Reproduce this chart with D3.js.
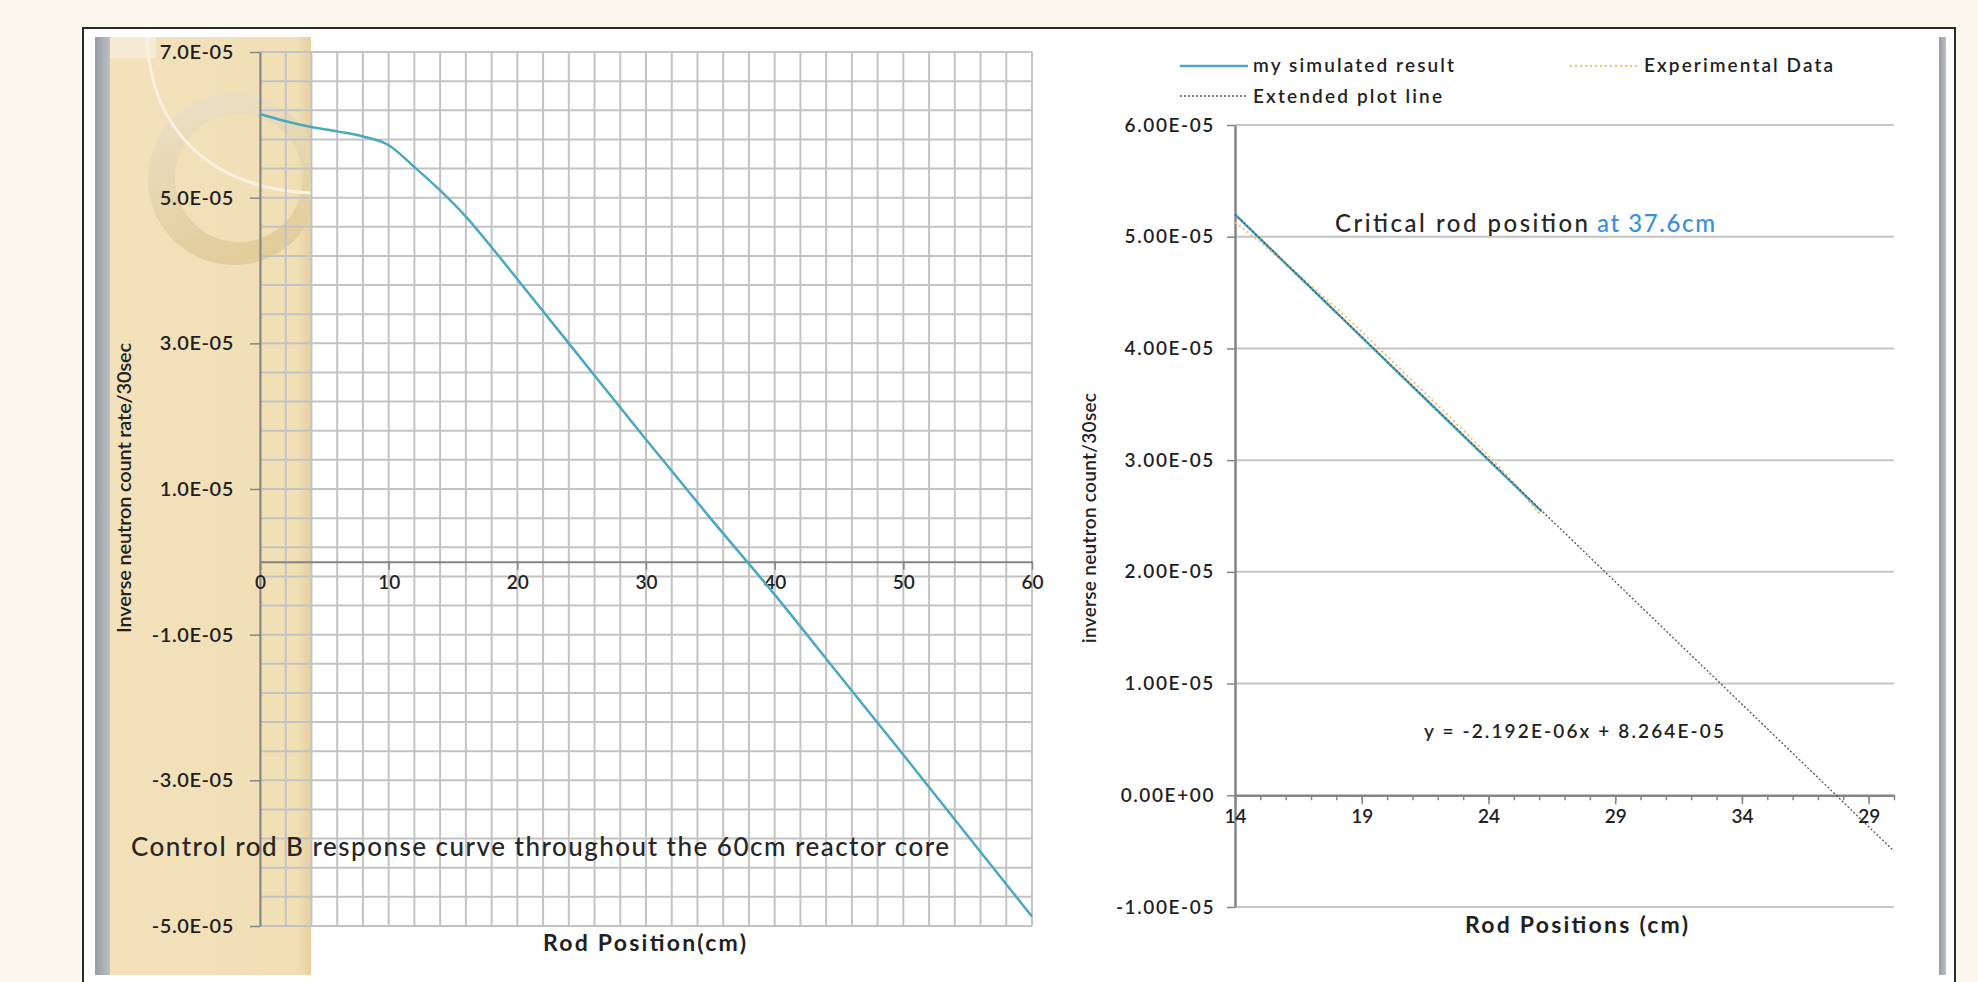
<!DOCTYPE html>
<html><head><meta charset="utf-8">
<script src="https://cdn.jsdelivr.net/npm/d3@7"></script>
<style>
html,body{margin:0;padding:0;background:#fbf6ee;}
svg{display:block;font-family:Lato,"Open Sans","DejaVu Sans",sans-serif;}
</style>
</head><body>
<svg id="chart" width="1978" height="982"></svg>
<script>
// ================= DATA =================
// Left chart: control rod B response curve (x: rod position cm, y: inverse count rate)
const leftPositions = [0, 2, 4, 6, 8, 10, 12, 14, 16, 18, 20, 25, 30, 35, 40, 45, 50, 55, 60];
const leftResponse = [6.15e-5, 6.05e-5, 5.97e-5, 5.91e-5, 5.84e-5, 5.72e-5, 5.42e-5, 5.10e-5, 4.74e-5, 4.32e-5,
                      3.88e-5, 2.78e-5, 1.68e-5, 0.60e-5, -0.45e-5, -1.55e-5, -2.65e-5, -3.76e-5, -4.87e-5];
const leftYTickValues = [7e-5, 5e-5, 3e-5, 1e-5, -1e-5, -3e-5, -5e-5];
const leftYTickLabels = ["7.0E-05", "5.0E-05", "3.0E-05", "1.0E-05", "-1.0E-05", "-3.0E-05", "-5.0E-05"];
const leftXTickValues = [0, 10, 20, 30, 40, 50, 60];
const leftXTickLabels = ["0", "10", "20", "30", "40", "50", "60"];

// Right chart
const simPositions = [14, 16, 18, 20, 22, 24, 26.1];
const simulatedResult = [5.20e-5, 4.76e-5, 4.32e-5, 3.88e-5, 3.44e-5, 3.00e-5, 2.54e-5];
const expPositions = [14, 15, 16, 17, 18, 19, 20, 21, 22, 23, 24, 25, 26];
const experimentalData = [5.13e-5, 4.95e-5, 4.76e-5, 4.56e-5, 4.36e-5, 4.15e-5, 3.93e-5, 3.71e-5, 3.49e-5,
                          3.27e-5, 3.04e-5, 2.80e-5, 2.52e-5];
const extPositions = [14, 40];
const extendedLine = [5.20e-5, -0.50e-5];
const rightYTickValues = [6e-5, 5e-5, 4e-5, 3e-5, 2e-5, 1e-5, 0, -1e-5];
const rightYTickLabels = ["6.00E-05", "5.00E-05", "4.00E-05", "3.00E-05", "2.00E-05", "1.00E-05", "0.00E+00", "-1.00E-05"];
const rightXMajorValues = [14, 19, 24, 29, 34, 39];
const rightXMajorLabels = ["14", "19", "24", "29", "34", "29"];
const legendNames = ["my simulated result", "Experimental Data", "Extended plot line"];

// ================= DRAWING =================
const svg = d3.select("#chart");
const TEAL = "#4aa8c0", ORANGE = "#f6bf63", TXT = "#1f1f24";

function fit(sel, w) { return sel.attr("textLength", w).attr("lengthAdjust", "spacing"); }

// --- slide frame ---
svg.append("rect").attr("x", 0).attr("y", 0).attr("width", 1978).attr("height", 982).attr("fill", "#fbf6ee");
svg.append("rect").attr("x", 83).attr("y", 28).attr("width", 1872).attr("height", 980)
  .attr("fill", "#ffffff").attr("stroke", "#2a2a2a").attr("stroke-width", 2);

const defs = svg.append("defs");
const gBar = defs.append("linearGradient").attr("id", "gbar").attr("x1", 0).attr("x2", 1);
gBar.append("stop").attr("offset", 0).attr("stop-color", "#979ca2");
gBar.append("stop").attr("offset", 1).attr("stop-color", "#bcc0c4");
const gTan = defs.append("linearGradient").attr("id", "gtan").attr("x1", 0).attr("x2", 1);
gTan.append("stop").attr("offset", 0).attr("stop-color", "#f2e1ba");
gTan.append("stop").attr("offset", 0.93).attr("stop-color", "#f1dfb6");
gTan.append("stop").attr("offset", 1).attr("stop-color", "#e4d09f");
const gRing = defs.append("linearGradient").attr("id", "gring").attr("x1", 0).attr("y1", 0).attr("x2", 0.3).attr("y2", 1);
gRing.append("stop").attr("offset", 0).attr("stop-color", "#ece2c9");
gRing.append("stop").attr("offset", 1).attr("stop-color", "#e2cd9c");
defs.append("clipPath").attr("id", "tanclip").append("rect")
  .attr("x", 110).attr("y", 37).attr("width", 201).attr("height", 938);

svg.append("rect").attr("x", 95).attr("y", 37).attr("width", 15).attr("height", 938).attr("fill", "url(#gbar)");
svg.append("rect").attr("x", 1939).attr("y", 37).attr("width", 7).attr("height", 938).attr("fill", "url(#gbar)");
svg.append("rect").attr("x", 110).attr("y", 37).attr("width", 201).attr("height", 938).attr("fill", "url(#gtan)");

const deco = svg.append("g").attr("clip-path", "url(#tanclip)");
deco.append("rect").attr("x", 110).attr("y", 37).attr("width", 46).attr("height", 21).attr("fill", "#f6ecd5");
deco.append("path")
  .attr("d", "M234,93 a86,86 0 1,0 0.01,0 Z M239,114 a64,64 0 1,1 -0.01,0 Z")
  .attr("fill", "url(#gring)").attr("fill-rule", "evenodd");
deco.append("path").attr("d", "M147,37 C150,125 205,188 311,193")
  .attr("fill", "none").attr("stroke", "#f9f1de").attr("stroke-width", 3);

// ================= LEFT CHART =================
const xL = d3.scaleLinear().domain([0, 60]).range([260, 1032]);
const yL = d3.scaleLinear().domain([-5e-5, 7e-5]).range([926, 52]);

const gridL = svg.append("g").attr("stroke", "#c3c3c3").attr("stroke-width", 2);
gridL.selectAll("line.v").data(d3.range(0, 61, 2)).join("line").attr("class", "v")
  .attr("x1", d => xL(d)).attr("x2", d => xL(d)).attr("y1", yL(7e-5)).attr("y2", yL(-5e-5));
gridL.selectAll("line.h").data(d3.range(0, 31).map(i => -5e-5 + i * 0.4e-5)).join("line").attr("class", "h")
  .attr("y1", d => yL(d)).attr("y2", d => yL(d)).attr("x1", xL(0)).attr("x2", xL(60));

// y axis
const axYL = svg.append("g").attr("transform", `translate(${xL(0)},0)`)
  .call(d3.axisLeft(yL).tickValues(leftYTickValues).tickFormat((d, i) => leftYTickLabels[i])
    .tickSize(10).tickSizeOuter(0).tickPadding(16));
axYL.select(".domain").attr("stroke", "#858585").attr("stroke-width", 2);
axYL.selectAll(".tick line").attr("stroke", "#858585").attr("stroke-width", 1.5);
axYL.selectAll(".tick text").attr("font-size", 20).attr("font-weight", 600).attr("fill", TXT)
  .attr("letter-spacing", 0.6).attr("font-family", "Lato, sans-serif");

// x axis at zero
const axXL = svg.append("g").attr("transform", `translate(0,${yL(0)})`)
  .call(d3.axisBottom(xL).tickValues(leftXTickValues).tickFormat((d, i) => leftXTickLabels[i])
    .tickSize(8).tickSizeOuter(0).tickPadding(6));
axXL.select(".domain").attr("stroke", "#858585").attr("stroke-width", 2);
axXL.selectAll(".tick line").attr("stroke", "#858585").attr("stroke-width", 1.5);
axXL.selectAll(".tick text").attr("font-size", 19).attr("font-weight", 600).attr("fill", TXT)
  .attr("font-family", "Lato, sans-serif");

// annotation text
fit(svg.append("text").attr("x", 131).attr("y", 846).attr("dominant-baseline", "central")
  .attr("font-size", 26).attr("font-weight", 500).attr("fill", "#262626")
  .text("Control rod B response curve throughout the 60cm reactor core"), 818);

// curve
const lineL = d3.line().x((d, i) => xL(leftPositions[i])).y(d => yL(d)).curve(d3.curveMonotoneX);
svg.append("path").datum(leftResponse).attr("d", lineL)
  .attr("fill", "none").attr("stroke", TEAL).attr("stroke-width", 2.5);

// axis titles
fit(svg.append("text").attr("transform", "translate(123,488) rotate(-90)")
  .attr("text-anchor", "middle").attr("dominant-baseline", "central")
  .attr("font-size", 20).attr("font-weight", 600).attr("fill", TXT).text("Inverse neutron count rate/30sec"), 290);
fit(svg.append("text").attr("x", 543).attr("y", 942).attr("dominant-baseline", "central")
  .attr("font-size", 23).attr("font-weight", "bold").attr("fill", TXT).text("Rod Position(cm)"), 203);

// ================= RIGHT CHART =================
const xR = d3.scaleLinear().domain([14, 40]).range([1235, 1894]);
const yR = d3.scaleLinear().domain([-1e-5, 6e-5]).range([907, 125]);

svg.append("g").selectAll("line").data(rightYTickValues.filter(v => v !== 0)).join("line")
  .attr("x1", xR(14)).attr("x2", xR(40)).attr("y1", d => yR(d)).attr("y2", d => yR(d))
  .attr("stroke", "#c6c6c6").attr("stroke-width", 2);

const axYR = svg.append("g").attr("transform", `translate(${xR(14)},0)`)
  .call(d3.axisLeft(yR).tickValues(rightYTickValues).tickFormat((d, i) => rightYTickLabels[i])
    .tickSize(8).tickSizeOuter(0).tickPadding(12));
axYR.select(".domain").attr("stroke", "#858585").attr("stroke-width", 2.5);
axYR.selectAll(".tick line").attr("stroke", "#858585").attr("stroke-width", 1.5);
axYR.selectAll(".tick text").attr("font-size", 19).attr("font-weight", 600).attr("fill", TXT)
  .attr("letter-spacing", 1.6).attr("font-family", "Lato, sans-serif");

// x axis: minor ticks every 1, major every 5
const axXRminor = svg.append("g").attr("transform", `translate(0,${yR(0)})`)
  .call(d3.axisBottom(xR).tickValues(d3.range(14, 41)).tickFormat("").tickSize(5).tickSizeOuter(0));
axXRminor.select(".domain").attr("stroke", "#858585").attr("stroke-width", 2.5);
axXRminor.selectAll(".tick line").attr("stroke", "#858585").attr("stroke-width", 1.5);
const axXR = svg.append("g").attr("transform", `translate(0,${yR(0)})`)
  .call(d3.axisBottom(xR).tickValues(rightXMajorValues).tickFormat((d, i) => rightXMajorLabels[i])
    .tickSize(9).tickSizeOuter(0).tickPadding(5));
axXR.select(".domain").remove();
axXR.selectAll(".tick line").attr("stroke", "#858585").attr("stroke-width", 1.5);
axXR.selectAll(".tick text").attr("font-size", 19).attr("font-weight", 600).attr("fill", TXT)
  .attr("font-family", "Lato, sans-serif");

// series
const lineR = xs => d3.line().x((d, i) => xR(xs[i])).y(d => yR(d));
svg.append("path").datum(experimentalData).attr("d", lineR(expPositions))
  .attr("fill", "none").attr("stroke", ORANGE).attr("stroke-width", 2).attr("stroke-dasharray", "2,3");
svg.append("path").datum(simulatedResult).attr("d", lineR(simPositions))
  .attr("fill", "none").attr("stroke", TEAL).attr("stroke-width", 2.5);
svg.append("path").datum(extendedLine).attr("d", lineR(extPositions))
  .attr("fill", "none").attr("stroke", "#555").attr("stroke-width", 1.3).attr("stroke-dasharray", "2,2");

// legend
const lg = svg.append("g").attr("font-size", 19).attr("font-weight", 600).attr("fill", TXT);
lg.append("line").attr("x1", 1180).attr("x2", 1248).attr("y1", 66).attr("y2", 66)
  .attr("stroke", TEAL).attr("stroke-width", 2.5);
fit(lg.append("text").attr("x", 1253).attr("y", 64).attr("dominant-baseline", "central").text(legendNames[0]), 201);
lg.append("line").attr("x1", 1570).attr("x2", 1637).attr("y1", 66).attr("y2", 66)
  .attr("stroke", ORANGE).attr("stroke-width", 2).attr("stroke-dasharray", "2,3");
fit(lg.append("text").attr("x", 1644).attr("y", 64).attr("dominant-baseline", "central").text(legendNames[1]), 189);
lg.append("line").attr("x1", 1180).attr("x2", 1248).attr("y1", 96).attr("y2", 96)
  .attr("stroke", "#555").attr("stroke-width", 1.3).attr("stroke-dasharray", "2,2");
fit(lg.append("text").attr("x", 1253).attr("y", 95).attr("dominant-baseline", "central").text(legendNames[2]), 189);

// annotations
const crit = svg.append("text").attr("x", 1335).attr("y", 222).attr("dominant-baseline", "central")
  .attr("font-size", 24).attr("font-weight", 500);
fit(crit.append("tspan").attr("fill", "#262626").text("Critical rod position"), 253);
fit(crit.append("tspan").attr("fill", "#3a8fd9").attr("x", 1597).text("at 37.6cm"), 118);
fit(svg.append("text").attr("x", 1424).attr("y", 730).attr("dominant-baseline", "central")
  .attr("font-size", 19).attr("font-weight", 600).attr("fill", TXT).text("y = -2.192E-06x + 8.264E-05"), 300);

// axis titles
fit(svg.append("text").attr("transform", "translate(1088,518) rotate(-90)")
  .attr("text-anchor", "middle").attr("dominant-baseline", "central")
  .attr("font-size", 19).attr("font-weight", 600).attr("fill", TXT).text("inverse neutron count/30sec"), 250);
fit(svg.append("text").attr("x", 1465).attr("y", 924).attr("dominant-baseline", "central")
  .attr("font-size", 23).attr("font-weight", "bold").attr("fill", TXT).text("Rod Positions (cm)"), 223);
</script>
</body></html>
